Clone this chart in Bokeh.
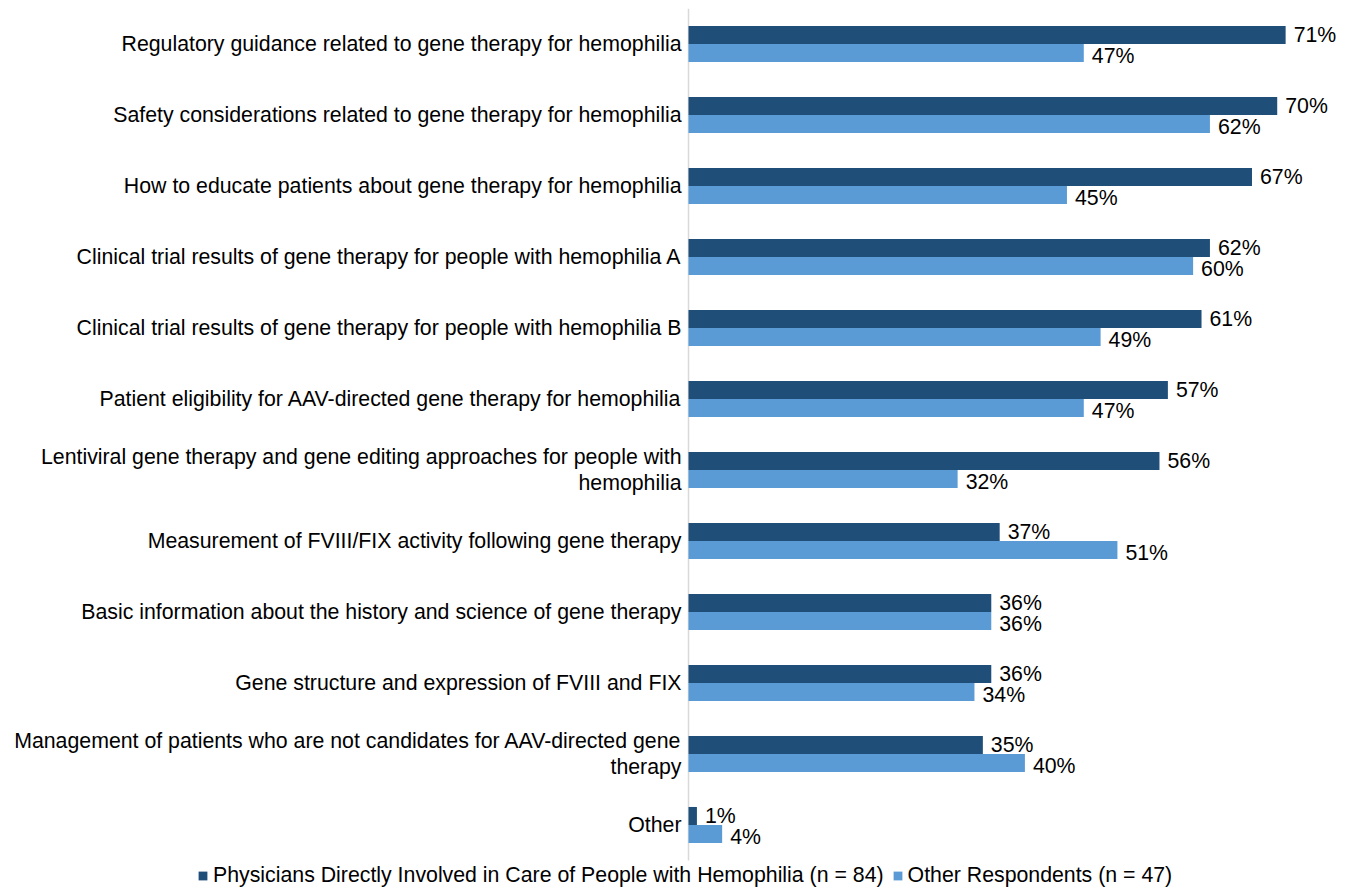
from bokeh.plotting import figure
from bokeh.models import Range1d, ColumnDataSource, Legend, LegendItem
from bokeh.transform import dodge
from bokeh.embed import file_html
from bokeh.resources import INLINE
from bokeh.core.properties import value

categories = [
    "Regulatory guidance related to gene therapy for hemophilia",
    "Safety considerations related to gene therapy for hemophilia",
    "How to educate patients about gene therapy for hemophilia",
    "Clinical trial results of gene therapy for people with hemophilia A",
    "Clinical trial results of gene therapy for people with hemophilia B",
    "Patient eligibility for AAV-directed gene therapy for hemophilia",
    "Lentiviral gene therapy and gene editing approaches for people with\nhemophilia",
    "Measurement of FVIII/FIX activity following gene therapy",
    "Basic information about the history and science of gene therapy",
    "Gene structure and expression of FVIII and FIX",
    "Management of patients who are not candidates for AAV-directed gene\ntherapy",
    "Other",
]
physicians = [71, 70, 67, 62, 61, 57, 56, 37, 36, 36, 35, 1]
others = [47, 62, 45, 60, 49, 47, 32, 51, 36, 34, 40, 4]
series_names = [
    "Physicians Directly Involved in Care of People with Hemophilia (n = 84)",
    "Other Respondents (n = 47)",
]

DARK = "#1f4e79"
LIGHT = "#5b9bd5"
FONT = "Liberation Sans"
FS = "21.3px"

n = len(categories)
idx = list(range(n))
src = ColumnDataSource(dict(
    y=idx,
    zero=[0] * n,
    cat=categories,
    phys=physicians,
    oth=others,
    phys_lbl=[f"{v}%" for v in physicians],
    oth_lbl=[f"{v}%" for v in others],
))

PX_PER_UNIT = 8.41      # horizontal pixels per percent
ROW_PX = 71             # vertical pixels per category
LEFT_PX = 680
H = 888
TOP = 8
extra_rows = (H - TOP) / ROW_PX - n   # room below the last row for the legend

p = figure(
    width=1344, height=H,
    x_range=Range1d(-LEFT_PX / PX_PER_UNIT, 78),
    y_range=Range1d(n - 0.5 + extra_rows, -0.5),
    output_backend="svg", toolbar_location=None,
    min_border_left=8, min_border_right=0, min_border_top=TOP, min_border_bottom=0,
)
p.outline_line_color = None
p.xgrid.visible = False
p.ygrid.visible = False
p.xaxis.visible = False
p.yaxis.visible = False
p.background_fill_color = "white"
p.border_fill_color = "white"

# category axis line
p.segment(x0=[0], x1=[0], y0=[-0.5], y1=[n - 0.5], line_color="#d9d9d9", line_width=1.5)

BH = 0.254
r1 = p.hbar(y=dodge("y", -BH / 2, range=p.y_range), right="phys", left=0, height=BH,
            source=src, fill_color=DARK, line_color=None)
r2 = p.hbar(y=dodge("y", BH / 2, range=p.y_range), right="oth", left=0, height=BH,
            source=src, fill_color=LIGHT, line_color=None)

p.text(x="phys", y=dodge("y", -BH / 2, range=p.y_range), text="phys_lbl", source=src,
       x_offset=8, y_offset=0, text_baseline="middle", text_align="left",
       text_font=value(FONT), text_font_size=FS, text_color="#000000")
p.text(x="oth", y=dodge("y", BH / 2, range=p.y_range), text="oth_lbl", source=src,
       x_offset=8, y_offset=3, text_baseline="middle", text_align="left",
       text_font=value(FONT), text_font_size=FS, text_color="#000000")

# category labels
p.text(x="zero", y="y", text="cat", source=src,
       x_offset=-7, text_baseline="middle", text_align="right",
       text_font=value(FONT), text_font_size=FS, text_color="#000000",
       text_line_height=1.1)

legend = Legend(
    items=[LegendItem(label=series_names[0], renderers=[r1]),
           LegendItem(label=series_names[1], renderers=[r2])],
    location=(189, 0), orientation="horizontal",
    glyph_width=11, glyph_height=11, label_standoff=5, spacing=8,
    padding=0, margin=0, label_height=20,
    border_line_color=None, background_fill_alpha=0,
    label_text_font=FONT, label_text_font_size=FS, label_text_color="#000000",
    label_text_baseline="middle",
)
p.add_layout(legend)

open("out.html", "w").write(file_html(p, INLINE))
